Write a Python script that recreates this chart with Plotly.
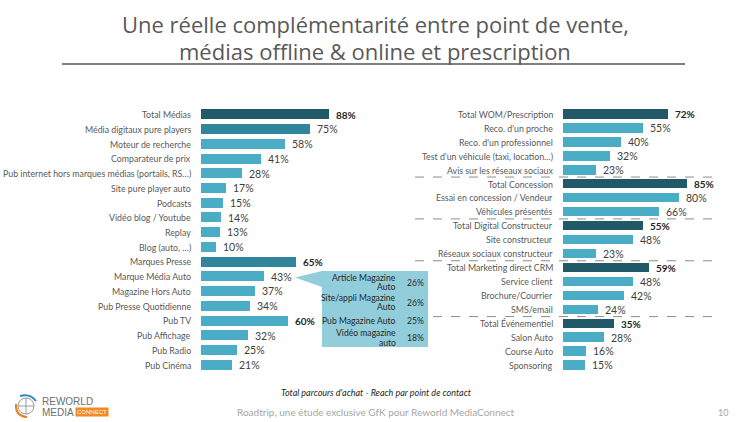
import plotly.graph_objects as go

W, H = 750, 422

title_lines = ["Une réelle complémentarité entre point de vente,", "médias offline & online et prescription"]

left_labels = ["Total Médias", "Média digitaux pure players", "Moteur de recherche", "Comparateur de prix",
               "Pub internet hors marques médias (portails, RS…)", "Site pure player auto", "Podcasts",
               "Vidéo blog / Youtube", "Replay", "Blog (auto, …)", "Marques Presse", "Marque Média Auto",
               "Magazine Hors Auto", "Pub Presse Quotidienne", "Pub TV", "Pub Affichage", "Pub Radio", "Pub Cinéma"]
left_values = [88, 75, 58, 41, 28, 17, 15, 14, 13, 10, 65, 43, 37, 34, 60, 32, 25, 21]
left_totals = ["Total Médias"]
left_subtotals = ["Média digitaux pure players", "Marques Presse"]
left_bold = ["Total Médias", "Marques Presse", "Pub TV"]

right_labels = ["Total WOM/Prescription", "Reco. d'un proche", "Reco. d'un professionnel",
                "Test d'un véhicule (taxi, location…)", "Avis sur les réseaux sociaux",
                "Total Concession", "Essai en concession / Vendeur", "Véhicules présentés",
                "Total Digital Constructeur", "Site constructeur", "Réseaux sociaux constructeur",
                "Total Marketing direct CRM", "Service client", "Brochure/Courrier", "SMS/email",
                "Total Événementiel", "Salon Auto", "Course Auto", "Sponsoring"]
right_values = [72, 55, 40, 32, 23, 85, 80, 66, 55, 48, 23, 59, 48, 42, 24, 35, 28, 16, 15]
right_totals = ["Total WOM/Prescription", "Total Concession", "Total Digital Constructeur",
                "Total Marketing direct CRM", "Total Événementiel"]

callout_labels = [["Article Magazine", "Auto"], ["Site/appli Magazine", "Auto"],
                  ["Pub Magazine Auto"], ["Vidéo magazine", "auto"]]
callout_values = [26, 26, 25, 18]

footnote = "Total parcours d'achat - Reach par point de contact"
footer = "Roadtrip, une étude exclusive GfK pour Reworld MediaConnect"
page_no = "10"

DARK, MID, LIGHT = "#215968", "#31859C", "#4BACC6"
LABEL_C = "#595959"
FONT = "Lato"
LBL_SIZE = 8.8


def px(x):
    return x / W


def py(y):
    return 1 - y / H


def colors(labels, totals, subs):
    out = []
    for l in labels:
        if l in totals:
            out.append(DARK)
        elif l in subs:
            out.append(MID)
        else:
            out.append(LIGHT)
    return out


fig = go.Figure()
fig.add_trace(go.Bar(x=left_values, y=list(range(len(left_labels))), orientation="h",
                     marker=dict(color=colors(left_labels, left_totals, left_subtotals), line=dict(width=0)),
                     width=0.68, xaxis="x", yaxis="y", hoverinfo="skip"))
fig.add_trace(go.Bar(x=right_values, y=list(range(len(right_labels))), orientation="h",
                     marker=dict(color=colors(right_labels, right_totals, []), line=dict(width=0)),
                     width=0.68, xaxis="x2", yaxis="y2", hoverinfo="skip"))

ann = []
shapes = []

# title
for i, t in enumerate(title_lines):
    ann.append(dict(xref="paper", yref="paper", x=0.5, y=py(24 + i * 27), text=t, showarrow=False,
                    xanchor="center", yanchor="middle", font=dict(family="Open Sans", size=22, color="#595959")))
shapes.append(dict(type="line", xref="paper", yref="paper", x0=px(62), x1=px(685), y0=py(64), y1=py(64),
                   line=dict(color="#7F7F7F", width=2)))

# left labels & values
for i, (l, v) in enumerate(zip(left_labels, left_values)):
    ann.append(dict(xref="paper", yref="y", x=px(193), y=i, text=l, showarrow=False, xanchor="right",
                    yanchor="middle", font=dict(family=FONT, size=LBL_SIZE, color=LABEL_C)))
    b = l in left_bold
    ann.append(dict(xref="x", yref="y", x=v, y=i, text=(f"<b>{v}%</b>" if b else f"{v}%"), showarrow=False,
                    xanchor="left", yanchor="middle", xshift=5,
                    font=dict(family=FONT, size=10 if b else 10.5, color="#262626" if b else "#404040")))

for i, (l, v) in enumerate(zip(right_labels, right_values)):
    ann.append(dict(xref="paper", yref="y2", x=px(555), y=i, text=l, showarrow=False, xanchor="right",
                    yanchor="middle", font=dict(family=FONT, size=LBL_SIZE, color=LABEL_C)))
    b = l in right_totals
    ann.append(dict(xref="x2", yref="y2", x=v, y=i, text=(f"<b>{v}%</b>" if b else f"{v}%"), showarrow=False,
                    xanchor="left", yanchor="middle", xshift=5,
                    font=dict(family=FONT, size=10 if b else 10.5, color="#262626" if b else "#404040")))

# dashed separators between right groups
for k, l in enumerate(right_labels):
    if k > 0 and l in right_totals:
        shapes.append(dict(type="line", xref="paper", yref="y2", x0=px(415), x1=px(717), y0=k - 0.5, y1=k - 0.5,
                           line=dict(color="#8C8C8C", width=1, dash="dash")))

# callout
x0, x1, yt, yb = 322, 428, 271, 347
path = (f"M {px(295)},{py(277.5)} L {px(x0)},{py(yt)} L {px(x1)},{py(yt)} L {px(x1)},{py(yb)} "
        f"L {px(x0)},{py(yb)} L {px(x0)},{py(287)} Z")
shapes.append(dict(type="path", xref="paper", yref="paper", path=path, fillcolor="#92CDDC",
                   line=dict(width=0), layer="above"))
cy = [282.5, 302.5, 321, 338]
for lines, v, y in zip(callout_labels, callout_values, cy):
    n = len(lines)
    for j, t in enumerate(lines):
        ly = y + (j - (n - 1) / 2) * 9.5
        ann.append(dict(xref="paper", yref="paper", x=px(398), y=py(ly), text=t, showarrow=False, xanchor="right",
                        yanchor="middle", align="right", font=dict(family=FONT, size=8.6, color="#262626")))
    ann.append(dict(xref="paper", yref="paper", x=px(405), y=py(y), text=f"{v}%", showarrow=False, xanchor="left",
                    yanchor="middle", font=dict(family=FONT, size=8.6, color="#262626")))

# footnotes
ann.append(dict(xref="paper", yref="paper", x=px(376), y=py(392), text=f"<i>{footnote}</i>", showarrow=False,
                xanchor="center", yanchor="middle", font=dict(family=FONT, size=9, color="#262626")))
ann.append(dict(xref="paper", yref="paper", x=px(376), y=py(412), text=footer, showarrow=False,
                xanchor="center", yanchor="middle", font=dict(family=FONT, size=10, color="#A6A6A6")))
ann.append(dict(xref="paper", yref="paper", x=px(723), y=py(412), text=page_no, showarrow=False,
                xanchor="center", yanchor="middle", font=dict(family=FONT, size=9, color="#A6A6A6")))

# logo
shapes.append(dict(type="circle", xref="paper", yref="paper", x0=px(18), x1=px(34), y0=py(398), y1=py(414),
                   line=dict(color="#9A9A9A", width=1)))
shapes.append(dict(type="line", xref="paper", yref="paper", x0=px(26), x1=px(26), y0=py(398), y1=py(414),
                   line=dict(color="#9A9A9A", width=1)))
shapes.append(dict(type="line", xref="paper", yref="paper", x0=px(18), x1=px(34), y0=py(406), y1=py(406),
                   line=dict(color="#9A9A9A", width=1)))
shapes.append(dict(type="path", xref="paper", yref="paper",
                   path=f"M {px(16)},{py(404)} Q {px(15)},{py(416)} {px(27)},{py(417)}",
                   line=dict(color="#F07D1A", width=2)))
shapes.append(dict(type="path", xref="paper", yref="paper",
                   path=f"M {px(20)},{py(396)} Q {px(30)},{py(393)} {px(36)},{py(401)}",
                   line=dict(color="#2E8BC9", width=2)))
ann.append(dict(xref="paper", yref="paper", x=px(40), y=py(401), text="REWORLD", showarrow=False,
                xanchor="left", yanchor="middle", font=dict(family="Liberation Sans", size=10, color="#6E6E6E")))
ann.append(dict(xref="paper", yref="paper", x=px(40), y=py(412), text="MEDIA", showarrow=False,
                xanchor="left", yanchor="middle", font=dict(family="Liberation Sans", size=10, color="#6E6E6E")))
ann.append(dict(xref="paper", yref="paper", x=px(75), y=py(412), text="CONNECT", showarrow=False,
                xanchor="left", yanchor="middle", bgcolor="#F08A24", borderpad=1,
                font=dict(family="Liberation Sans", size=6, color="white")))

ydom = [py(372.4), py(107.3)]
fig.update_layout(
    width=W, height=H, margin=dict(l=0, r=0, t=0, b=0),
    paper_bgcolor="white", plot_bgcolor="rgba(0,0,0,0)", showlegend=False,
    xaxis=dict(domain=[px(201), px(201 + 145.5)], range=[0, 100], visible=False, fixedrange=True),
    yaxis=dict(domain=ydom, range=[len(left_labels) - 0.5, -0.5], visible=False, fixedrange=True),
    xaxis2=dict(domain=[px(563), px(563 + 145.5)], range=[0, 100], visible=False, fixedrange=True, anchor="y2"),
    yaxis2=dict(domain=ydom, range=[len(right_labels) - 0.5, -0.5], visible=False, fixedrange=True, anchor="x2"),
    annotations=ann, shapes=shapes, bargap=0,
)
fig.write_html("out.html")
